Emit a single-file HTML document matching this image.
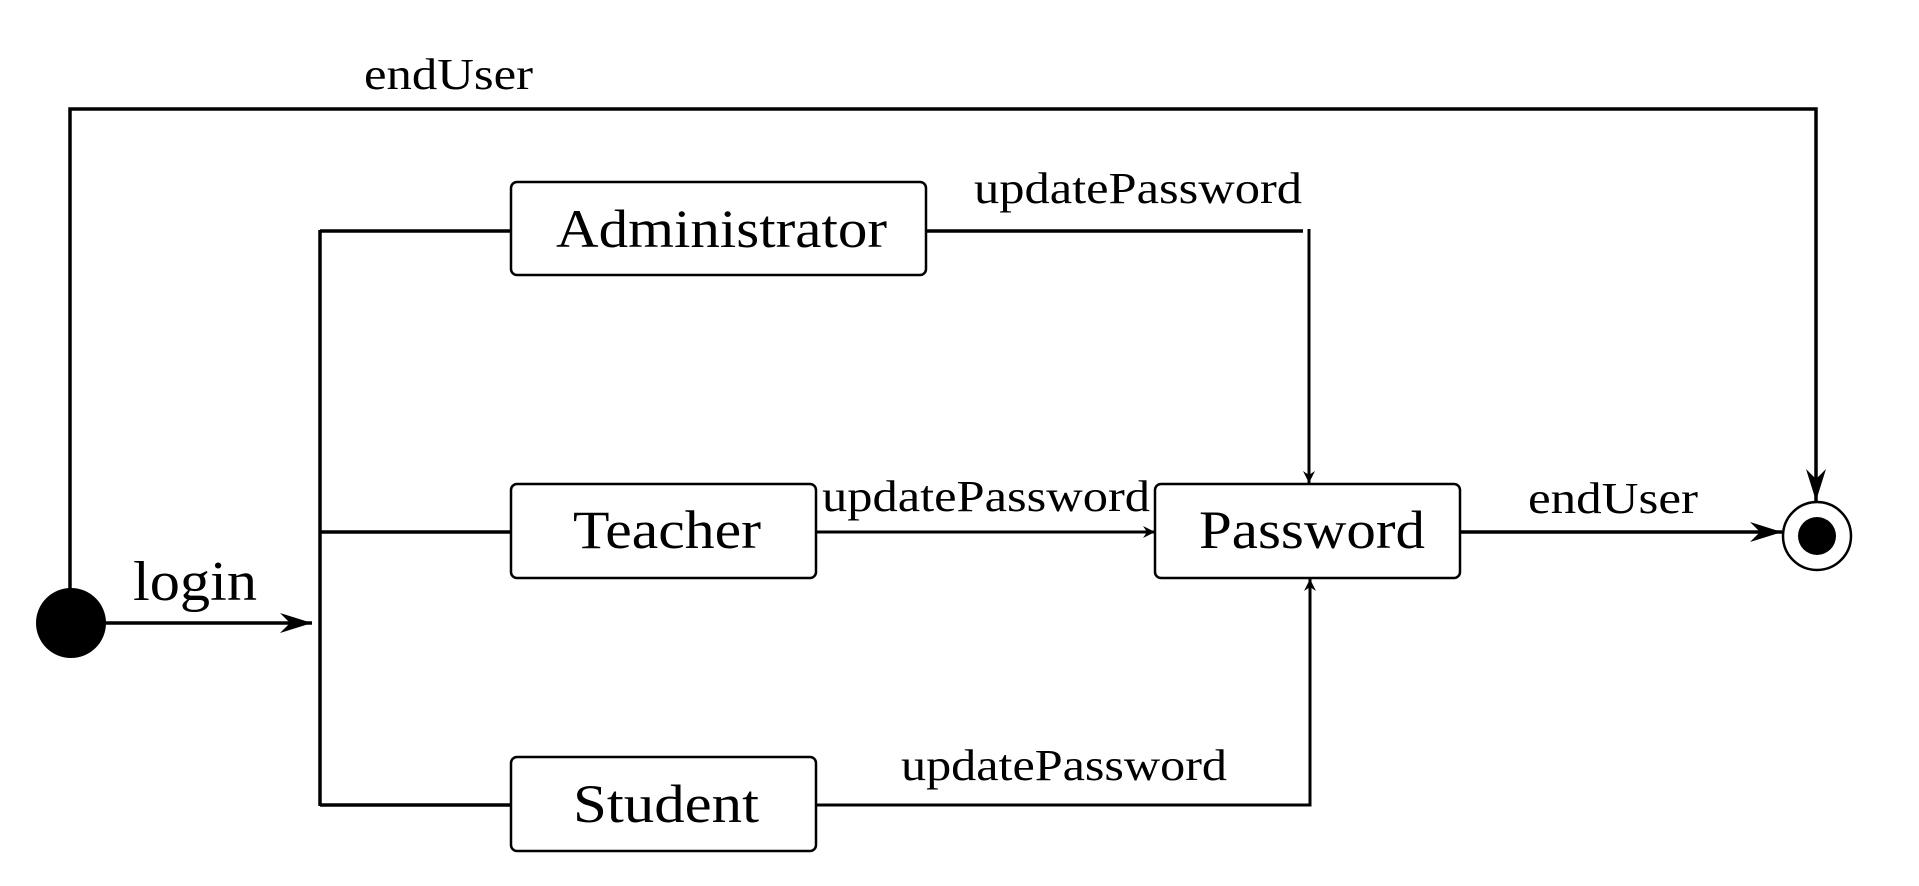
<!DOCTYPE html>
<html><head><meta charset="utf-8"><style>html,body{margin:0;padding:0;background:#fff}svg{display:block}</style></head>
<body>
<svg width="1919" height="886" viewBox="0 0 1919 886" xmlns="http://www.w3.org/2000/svg" font-family="Liberation Serif, serif" fill="#000">
<defs>
<marker id="a" markerWidth="40" markerHeight="30" refX="32" refY="12" orient="auto" markerUnits="userSpaceOnUse">
<path d="M0,2 L32,12 L0,22 L10,12 Z" fill="#000"/>
</marker>
<marker id="s" markerWidth="20" markerHeight="20" refX="12" refY="6" orient="auto" markerUnits="userSpaceOnUse">
<path d="M0,0 L12,6 L0,12 L4,6 Z" fill="#000"/>
</marker>
</defs>
<circle cx="1817" cy="536" r="34" fill="#fff" stroke="#000" stroke-width="2.5"/>
<circle cx="1817" cy="536" r="19"/>
<g stroke="#000" stroke-width="3.5" fill="none">
<path d="M70,600 L70,109 L1816,109 L1816,501" marker-end="url(#a)"/>
<path d="M100,623 L312,623" marker-end="url(#a)"/>
<path d="M320,230 L320,806"/>
<path d="M320,231 L511,231"/>
<path d="M320,532 L511,532"/>
<path d="M320,805 L511,805"/>
<path d="M926,231 L1303,231"/>
<path d="M1309,229 L1309,483" stroke-width="3" marker-end="url(#s)"/>
<path d="M816,532 L1155,532" stroke-width="3" marker-end="url(#s)"/>
<path d="M816,805 L1310,805 L1310,579" stroke-width="3" marker-end="url(#s)"/>
<path d="M1460,532 L1782,532" marker-end="url(#a)"/>
</g>
<circle cx="71" cy="623" r="35"/>
<g fill="#fff" stroke="#000" stroke-width="2.5">
<rect x="511" y="182" width="415" height="93" rx="6"/>
<rect x="511" y="484" width="305" height="94" rx="6"/>
<rect x="511" y="757" width="305" height="94" rx="6"/>
<rect x="1155" y="484" width="305" height="94" rx="6"/>
</g>
<g font-size="54">
<text x="556" y="247" textLength="331" lengthAdjust="spacingAndGlyphs">Administrator</text>
<text x="573" y="548" textLength="188" lengthAdjust="spacingAndGlyphs">Teacher</text>
<text x="573" y="822" textLength="186" lengthAdjust="spacingAndGlyphs">Student</text>
<text x="1199" y="548" textLength="226" lengthAdjust="spacingAndGlyphs">Password</text>
<text x="133" y="600" font-size="56" textLength="124" lengthAdjust="spacingAndGlyphs">login</text>
</g>
<g font-size="44">
<text x="364" y="89" textLength="169" lengthAdjust="spacingAndGlyphs">endUser</text>
<text x="974" y="203" textLength="328" lengthAdjust="spacingAndGlyphs">updatePassword</text>
<text x="822" y="511" textLength="328" lengthAdjust="spacingAndGlyphs">updatePassword</text>
<text x="901" y="780" textLength="326" lengthAdjust="spacingAndGlyphs">updatePassword</text>
<text x="1528" y="513" textLength="170" lengthAdjust="spacingAndGlyphs">endUser</text>
</g>
</svg>
</body></html>
